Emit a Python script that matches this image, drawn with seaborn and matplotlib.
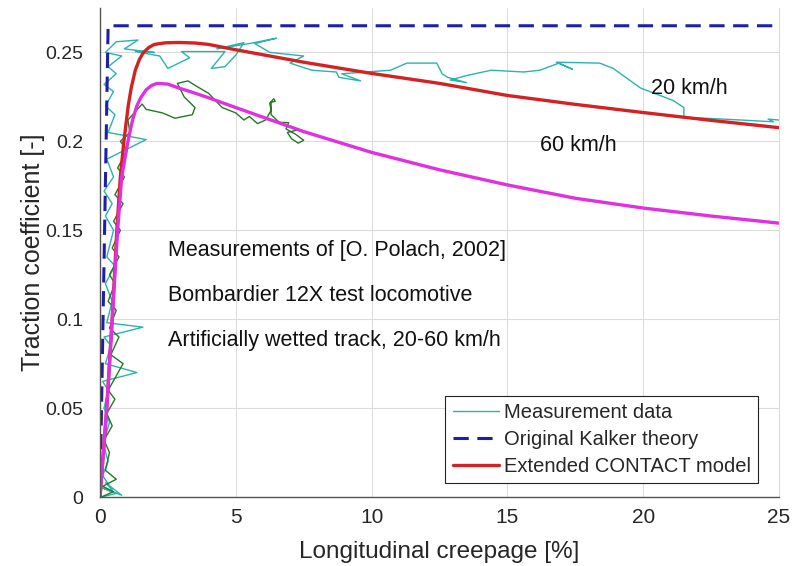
import matplotlib
matplotlib.use("Agg")
import matplotlib.pyplot as plt
import seaborn as sns

# Measured traction, 20 km/h run: (creepage %, traction coefficient)
meas_20_s = [0.05, 0.6, 0.1, 0.8, 0.2, 0.45, 0.1, 0.3, 0.12, 0.35, 0.15, 0.3, 0.1, 1.36, 0.2,
             0.4, 0.15, 1.58, 0.25, 0.45, 0.2, 0.55, 0.25, 0.5, 0.2, 0.45, 0.15, 0.5, 0.25, 1.7,
             0.3, 0.55, 0.2, 0.5, 0.15, 0.6, 0.3, 0.8, 0.2, 0.6, 1.4, 0.9, 2.0, 1.3, 2.2, 2.5,
             3.3, 3.0, 4.6, 4.1, 4.6, 5.0, 5.3, 4.3, 5.5, 6.5, 5.7, 6.26, 7.5, 7.0, 7.8, 8.7,
             8.8, 9.6, 8.9, 10.7, 11.3, 12.4, 12.6, 12.8, 13.5, 12.9, 13.5, 14.4, 15.6, 16.2,
             16.9, 17.4, 16.8, 18.4, 18.9, 19.9, 21.1, 21.5, 21.5, 22.3, 23.6, 24.8, 24.6, 25.0]
meas_20_mu = [0.0, 0.002, 0.005, 0.001, 0.008, 0.004, 0.012, 0.02, 0.03, 0.042, 0.05, 0.06,
              0.065, 0.070, 0.075, 0.085, 0.09, 0.0955, 0.098, 0.11, 0.12, 0.13, 0.135, 0.15,
              0.158, 0.165, 0.172, 0.18, 0.19, 0.201, 0.205, 0.215, 0.22, 0.228, 0.232, 0.238,
              0.242, 0.248, 0.25, 0.256, 0.257, 0.252, 0.25, 0.2505, 0.248, 0.241, 0.247,
              0.2505, 0.2505, 0.241, 0.242, 0.2485, 0.2555, 0.252, 0.255, 0.258, 0.255, 0.250,
              0.248, 0.244, 0.240, 0.239, 0.236, 0.234, 0.238, 0.240, 0.244, 0.244, 0.238,
              0.236, 0.233, 0.2345, 0.237, 0.240, 0.239, 0.240, 0.244, 0.2405, 0.2445, 0.244,
              0.241, 0.230, 0.223, 0.219, 0.2135, 0.213, 0.212, 0.211, 0.2125, 0.212]

# Measured traction, 60 km/h run
meas_60_s = [0.05, 0.5, 0.1, 0.6, 0.2, 0.35, 0.15, 0.45, 0.25, 0.55, 0.3, 0.85, 0.4, 0.7, 0.35,
             0.6, 0.3, 0.55, 0.35, 0.7, 0.45, 0.75, 0.5, 0.85, 0.55, 0.9, 0.65, 1.0, 0.75, 1.1,
             1.03, 1.55, 1.7, 2.3, 2.76, 3.4, 3.5, 3.1, 2.85, 3.24, 3.5, 4.0, 4.5, 5.0, 5.3,
             5.5, 5.8, 6.1, 6.3, 6.25, 6.4, 6.45, 6.3, 6.3, 6.6, 6.95, 6.85, 7.2, 7.5, 7.3,
             7.05, 6.9, 7.3]
meas_60_mu = [0.0, 0.003, 0.006, 0.01, 0.015, 0.025, 0.032, 0.04, 0.047, 0.055, 0.06, 0.075,
              0.08, 0.09, 0.095, 0.105, 0.11, 0.12, 0.125, 0.135, 0.14, 0.15, 0.155, 0.165,
              0.17, 0.18, 0.185, 0.195, 0.2, 0.205, 0.212, 0.221, 0.218, 0.216, 0.213, 0.215,
              0.219, 0.225, 0.2326, 0.234, 0.2315, 0.227, 0.219, 0.216, 0.212, 0.214, 0.210,
              0.212, 0.2175, 0.2215, 0.224, 0.2225, 0.222, 0.215, 0.2107, 0.2105, 0.207, 0.204,
              0.2006, 0.199, 0.2015, 0.205, 0.2065]

# Original Kalker theory (linear rise, then saturation)
kalker_s = [0.0, 0.3, 25.0]
kalker_mu = [0.0, 0.265, 0.265]

# Extended CONTACT model, 20 km/h
model_20_s = [0.0, 0.25, 0.45, 0.62, 0.75, 0.88, 1.04, 1.15, 1.3, 1.45, 1.6, 1.8, 2.0, 2.4,
              2.9, 3.5, 4.0, 5.0, 7.5, 10.0, 12.5, 15.0, 17.5, 20.0, 22.5, 25.0]
model_20_mu = [0.0, 0.05, 0.1, 0.15, 0.18, 0.2, 0.22, 0.23, 0.24, 0.246, 0.25, 0.2528,
               0.2545, 0.2554, 0.2556, 0.2553, 0.2545, 0.2515, 0.2445, 0.2382, 0.2326,
               0.2258, 0.2208, 0.2162, 0.2118, 0.2077]

# Extended CONTACT model, 60 km/h
model_60_s = [0.0, 0.25, 0.45, 0.65, 0.8, 1.03, 1.2, 1.36, 1.5, 1.7, 1.9, 2.1, 2.5, 2.9,
              3.4, 4.0, 5.0, 7.5, 10.0, 12.5, 15.0, 17.5, 20.0, 22.5, 25.0]
model_60_mu = [0.0, 0.05, 0.1, 0.15, 0.18, 0.2, 0.212, 0.22, 0.2245, 0.229, 0.2314, 0.2326,
               0.2322, 0.2300, 0.2276, 0.2245, 0.219, 0.2055, 0.1938, 0.184, 0.1755, 0.168,
               0.1625, 0.158, 0.154]

x_ticks = [0, 5, 10, 15, 20, 25]
y_ticks = [0, 0.05, 0.1, 0.15, 0.2, 0.25]
y_tick_labels = ["0", "0.05", "0.1", "0.15", "0.2", "0.25"]

sns.set_style("whitegrid", {"grid.color": "#dcdcdc", "axes.edgecolor": "#555555"})
plt.rcParams["font.family"] = ["Liberation Sans", "DejaVu Sans"]

fig = plt.figure(figsize=(7.96, 5.66), dpi=100)
ax = fig.add_axes([0.1256, 0.1219, 0.853, 0.864])

teal = "#2bb3ad"
green = "#237a23"
blue = "#1f1fa6"
red = "#d42222"
magenta = "#e030e0"

sns.lineplot(x=meas_20_s, y=meas_20_mu, sort=False, estimator=None, color=teal,
             linewidth=1.0, ax=ax)
sns.lineplot(x=meas_60_s, y=meas_60_mu, sort=False, estimator=None, color=green,
             linewidth=1.0, ax=ax)
sns.lineplot(x=kalker_s, y=kalker_mu, sort=False, estimator=None, color=blue,
             linewidth=2.2, ax=ax)
sns.lineplot(x=model_20_s, y=model_20_mu, sort=False, estimator=None, color=red,
             linewidth=2.4, ax=ax)
sns.lineplot(x=model_60_s, y=model_60_mu, sort=False, estimator=None, color=magenta,
             linewidth=2.4, ax=ax)

line_meas, line_60, line_kalker, line_red, line_mag = ax.lines[:5]
line_kalker.set_dashes([5, 2.8])
for ln in (line_red, line_mag):
    ln.set_solid_joinstyle("round")

ax.set_xlim(0, 25)
ax.set_ylim(0, 0.275)
ax.set_xticks(x_ticks)
ax.set_yticks(y_ticks)
ax.set_yticklabels(y_tick_labels)
ax.tick_params(axis="both", direction="in", length=4, colors="#333333",
               labelcolor="#262626", width=0.8)
ax.tick_params(axis="x", labelsize=15, pad=8)
ax.tick_params(axis="y", labelsize=14, pad=12)
ax.set_xlabel("Longitudinal creepage [%]", fontsize=17.5, color="#262626", labelpad=10)
ax.set_ylabel("Traction coefficient [-]", fontsize=18, color="#262626", labelpad=0)

ax.spines["top"].set_visible(False)
ax.spines["right"].set_color("#dcdcdc")
for side in ("left", "bottom"):
    ax.spines[side].set_color("#555555")
    ax.spines[side].set_linewidth(1.0)

text_kw = dict(fontsize=15.5, color="#111111")
ax.text(2.5, 0.1388, "Measurements of [O. Polach, 2002]", va="center", **text_kw)
ax.text(2.5, 0.1135, "Bombardier 12X test locomotive", va="center", **text_kw)
ax.text(2.5, 0.0882, "Artificially wetted track, 20-60 km/h", va="center", **text_kw)
ax.text(20.3, 0.2298, "20 km/h", va="center", **text_kw)
ax.text(16.2, 0.1978, "60 km/h", va="center", **text_kw)

leg = ax.legend(handles=[line_meas, line_kalker, line_red],
                labels=["Measurement data", "Original Kalker theory", "Extended CONTACT model"],
                loc="lower right", bbox_to_anchor=(0.969, 0.0286), borderaxespad=0,
                fontsize=14.5, frameon=True, fancybox=False, framealpha=1,
                handlelength=2.3, handletextpad=0.25, labelspacing=0.4, borderpad=0.35)
leg.get_frame().set_edgecolor("#222222")
leg.get_frame().set_linewidth(0.8)

fig.savefig("out.png", dpi=100)
